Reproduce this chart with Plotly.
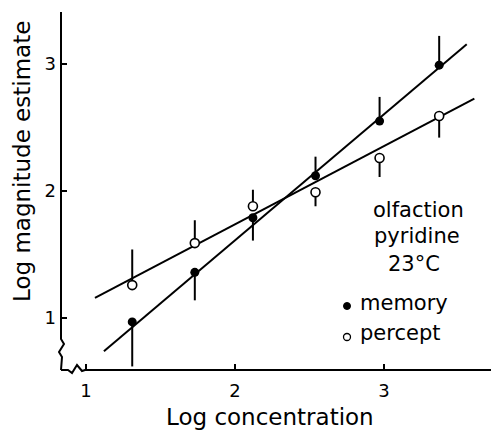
import plotly.graph_objects as go

# ---- data ----
conc = [1.31, 1.73, 2.12, 2.54, 2.97, 3.37]
memory = [0.97, 1.36, 1.79, 2.12, 2.55, 2.99]
memory_err_up = [0, 0, 0, 0.15, 0.19, 0.23]
memory_err_down = [0.35, 0.22, 0.18, 0, 0, 0]
percept = [1.26, 1.59, 1.88, 1.99, 2.26, 2.59]
percept_err_up = [0.28, 0.18, 0.13, 0, 0, 0]
percept_err_down = [0, 0, 0, 0.11, 0.15, 0.17]

fit_x_memory = [1.12, 3.555]
fit_memory = [0.74, 3.155]
fit_x_percept = [1.06, 3.606]
fit_percept = [1.16, 2.727]

x_ticks = [1, 2, 3]
y_ticks = [1, 2, 3]

# page geometry (the page body has an 8px margin)
OFF = 8
PAGE_W, PAGE_H = 499, 431
LEFT, TOP, RIGHT, BOTTOM = 61, 12, 497, 370   # plot area in page pixels
W, H = PAGE_W - OFF, PAGE_H - OFF
ML, MT = LEFT - OFF, TOP - OFF
MR, MB = W - (RIGHT - OFF), H - (BOTTOM - OFF)
PW, PH = RIGHT - LEFT, BOTTOM - TOP
FONT = "DejaVu Sans"


def px(x):
    return (x - LEFT) / PW


def py(y):
    return (BOTTOM - y) / PH


fig = go.Figure()

# fitted lines
fig.add_trace(go.Scatter(x=fit_x_memory, y=fit_memory, mode="lines",
                         line=dict(color="black", width=2), showlegend=False,
                         hoverinfo="skip"))
fig.add_trace(go.Scatter(x=fit_x_percept, y=fit_percept, mode="lines",
                         line=dict(color="black", width=2), showlegend=False,
                         hoverinfo="skip"))

# data points with one-sided error bars
fig.add_trace(go.Scatter(
    x=conc, y=memory, mode="markers", name="memory",
    marker=dict(symbol="circle", size=9, color="black"),
    error_y=dict(type="data", symmetric=False, array=memory_err_up,
                 arrayminus=memory_err_down, width=0, thickness=2, color="black"),
    showlegend=False))
fig.add_trace(go.Scatter(
    x=conc, y=percept, mode="markers", name="percept",
    marker=dict(symbol="circle", size=9, color="white",
                line=dict(color="black", width=1.6)),
    error_y=dict(type="data", symmetric=False, array=percept_err_up,
                 arrayminus=percept_err_down, width=0, thickness=2, color="black"),
    showlegend=False))


def path(points):
    return "M " + " L ".join(f"{px(a):.5f},{py(b):.5f}" for a, b in points)


yaxis_pts = [(61, 12), (61, 339), (64, 344), (59, 352), (62, 357), (61, 370)]
xaxis_pts = [(61, 370), (68, 370), (72, 373), (77, 365), (82, 371), (85, 370), (497, 370)]
shapes = [
    dict(type="path", xref="paper", yref="paper", path=path(yaxis_pts),
         line=dict(color="black", width=2)),
    dict(type="path", xref="paper", yref="paper", path=path(xaxis_pts),
         line=dict(color="black", width=2)),
    dict(type="circle", xref="paper", yref="paper",
         x0=px(343.5), x1=px(350.5), y0=py(302.5), y1=py(309.5),
         fillcolor="black", line=dict(color="black", width=1)),
    dict(type="circle", xref="paper", yref="paper",
         x0=px(343.5), x1=px(350.5), y0=py(333.5), y1=py(340.5),
         fillcolor="white", line=dict(color="black", width=1.3)),
]


def label(text, x, y, size=21, xanchor="center", angle=0):
    return dict(text=text, x=px(x), y=py(y), xref="paper", yref="paper",
                xanchor=xanchor, yanchor="middle", textangle=angle,
                showarrow=False, font=dict(family=FONT, size=size, color="black"))


annotations = [
    label("olfaction", 418, 210),
    label("pyridine", 417, 236),
    label("23°C", 414, 264),
    label("memory", 358, 303, xanchor="left"),
    label("percept", 358, 333, xanchor="left"),
    label("Log concentration", 270, 417, size=23),
    label("Log magnitude estimate", 22, 162, size=23, angle=-90),
]

fig.update_layout(
    width=W, height=H,
    margin=dict(l=ML, r=MR, t=MT, b=MB),
    paper_bgcolor="white", plot_bgcolor="white",
    shapes=shapes, annotations=annotations,
    xaxis=dict(range=[0.832, 3.758], tickvals=x_ticks, ticks="inside",
               ticklen=6, tickwidth=2, tickcolor="black", showline=False,
               showgrid=False, zeroline=False, ticklabelstandoff=8,
               tickfont=dict(family=FONT, size=18, color="black")),
    yaxis=dict(range=[0.592, 3.408], tickvals=y_ticks, ticks="inside",
               ticklen=6, tickwidth=2, tickcolor="black", showline=False,
               showgrid=False, zeroline=False, ticklabelstandoff=4,
               tickfont=dict(family=FONT, size=18, color="black")),
    showlegend=False,
)

fig.write_html("out.html")
